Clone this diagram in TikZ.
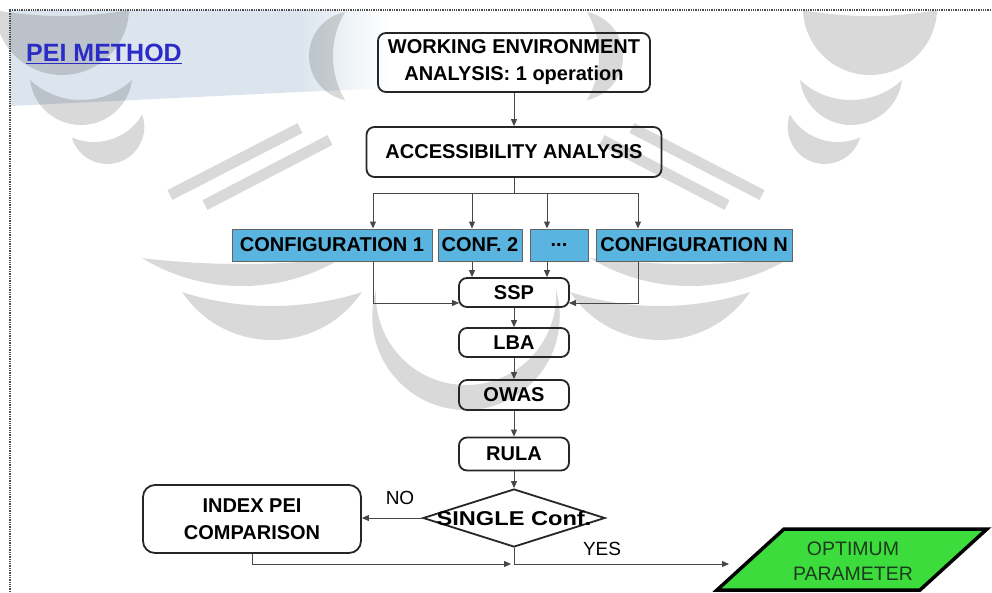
\documentclass[tikz,border=0pt]{standalone}
\usepackage{fontspec}
\setmainfont{Liberation Sans}
\usetikzlibrary{arrows.meta,shapes.geometric,calc}

\definecolor{cfgblue}{HTML}{5AB4E0}
\definecolor{okgreen}{HTML}{3CDC3C}
\definecolor{titleblue}{HTML}{2B2BC8}
\definecolor{bandblue}{HTML}{DCE5EE}
\definecolor{edge}{HTML}{262626}
\definecolor{wire}{HTML}{474747}
\definecolor{optext}{HTML}{1E3A1E}

% crescent of the faint background emblem:
% centre x, tip line y, half width, outer depth, inner depth, rotation
\newcommand\emblemcrescent[6]{%
  \pgfmathsetmacro\cko{(#3*#3-#4*#4)/(2*#4)}%
  \pgfmathsetmacro\cro{#4+\cko}%
  \pgfmathsetmacro\cki{(#3*#3-#5*#5)/(2*#5)}%
  \pgfmathsetmacro\cri{#5+\cki}%
  \begin{scope}[shift={(#1,#2)}, rotate=#6]
    \begin{scope}
      \clip (0,-\cko) circle[radius=\cro];
      \fill[emblem, even odd rule] (-1200,-1200) rectangle (1200,1200)
        (0,-\cki) circle[radius=\cri];
    \end{scope}
  \end{scope}}

\begin{document}
\begin{tikzpicture}[x=1pt,y=-1pt,
  every node/.style={font=\fontsize{20}{27}\selectfont\bfseries, text=black,
    align=center, inner sep=0pt},
  procbox/.style={draw=edge, line width=1.8pt, rounded corners=8pt},
  cfgbox/.style={draw=wire!85, line width=1pt, fill=cfgblue, minimum height=32pt},
  wireline/.style={draw=wire, line width=1pt},
  wirearrow/.style={wireline, -{Triangle[length=7pt,width=6pt]}},
  emblem/.style={fill=black, fill opacity=0.15},
  plainlabel/.style={font=\fontsize{19}{22}\selectfont},
]
\useasboundingbox (0,0) rectangle (992,592);
\fill[white] (0,0) rectangle (992,592);

% light header band behind the title
\fill[bandblue] (10,10) -- (300,10) -- (300,92) -- (10,106) -- cycle;
\shade[left color=bandblue, right color=white] (300,10) -- (390,10) -- (390,88) -- (300,92) -- cycle;

% faint background emblem
\emblemcrescent{870}{10}{67}{65}{6}{0}
\emblemcrescent{62}{10}{67}{65}{6}{0}
\emblemcrescent{851}{80}{51}{45}{20}{0}
\emblemcrescent{81}{80}{51}{45}{20}{0}
\emblemcrescent{825}{126}{37}{38}{14}{-18}
\emblemcrescent{107}{126}{37}{38}{14}{18}
\emblemcrescent{690}{258}{100}{28}{6}{0}
\emblemcrescent{242}{258}{100}{28}{6}{0}
\emblemcrescent{660}{292}{90}{48}{14}{0}
\emblemcrescent{272}{292}{90}{48}{14}{0}
\emblemcrescent{466}{290}{90}{120}{95}{0}
\emblemcrescent{345}{56}{44}{36}{12}{-90}
\emblemcrescent{587}{56}{44}{36}{12}{90}
\begin{scope}[draw=black, draw opacity=0.15, line width=11pt]
  \draw (170,195) -- (300,128);
  \draw (205,205) -- (330,140);
  \draw (762,195) -- (632,128);
  \draw (727,205) -- (602,140);
\end{scope}

% page frame
\draw[black!70, line width=1.3pt, densely dotted] (10,592) -- (10,10) -- (992,10);

% title
\node[font=\fontsize{25}{28}\selectfont\bfseries, text=titleblue] (title) at (104,54) {\underline{PEI METHOD}};

% process chain
\node[procbox, minimum width=272pt, minimum height=59pt] (work) at (514,62.5)
  {WORKING ENVIRONMENT\\ANALYSIS: 1 operation};
\node[procbox, minimum width=295pt, minimum height=50pt] (acc) at (514,152)
  {ACCESSIBILITY ANALYSIS};

\node[cfgbox, minimum width=200pt] (cfga) at (332,245) {CONFIGURATION 1};
\node[cfgbox, minimum width=84pt] (cfgb) at (480,245) {CONF. 2};
\node[cfgbox, minimum width=58pt] (cfgc) at (559,245) {...};
\node[cfgbox, minimum width=196pt] (cfgn) at (694,245) {CONFIGURATION N};

\node[procbox, minimum width=110pt, minimum height=29pt] (ssp) at (514,292.5) {SSP};
\node[procbox, minimum width=110pt, minimum height=29pt] (lba) at (514,342.5) {LBA};
\node[procbox, minimum width=110pt, minimum height=30pt] (owas) at (514,395) {OWAS};
\node[procbox, minimum width=110pt, minimum height=33pt] (rula) at (514,454) {RULA};

\node[draw=edge, line width=1.8pt, diamond, minimum width=182pt, minimum height=58pt] (decide) at (514,518) {};
\node[xscale=1.18] (decidetext) at (decide.center) {SINGLE Conf.};

\node[procbox, rounded corners=12pt, minimum width=218pt, minimum height=68pt] (index) at (252,519)
  {INDEX PEI\\COMPARISON};

\draw[line width=3.5pt, fill=okgreen] (717,590) -- (784,529) -- (987,529) -- (920,590) -- cycle;
\node[font=\fontsize{19.5}{25}\selectfont, text=optext] (optimum) at (853,561) {OPTIMUM\\PARAMETER};

\node[plainlabel] (nolabel) at (400,498) {NO};
\node[plainlabel] (yeslabel) at (602,549) {YES};

% connector end points
\coordinate (bus) at (514,193);
\coordinate (busa) at (373,193);
\coordinate (busb) at (472,193);
\coordinate (busc) at (547,193);
\coordinate (busn) at (638,193);
\coordinate (sspinl) at (459,303);
\coordinate (sspinr) at (569,303);
\coordinate (mergein) at (511,564);
\coordinate (optin) at (729,564);

% connectors
\draw[wirearrow] (work) -- (acc);
\draw[wireline] (acc.south) -- (bus);
\draw[wireline] (busa) -- (busn);
\draw[wirearrow] (busa) -- (busa |- cfga.north);
\draw[wirearrow] (busb) -- (busb |- cfgb.north);
\draw[wirearrow] (busc) -- (busc |- cfgc.north);
\draw[wirearrow] (busn) -- (busn |- cfgn.north);
\draw[wirearrow] (busa |- cfga.south) |- (sspinl);
\draw[wirearrow] (busb |- cfgb.south) -- (busb |- ssp.north);
\draw[wirearrow] (busc |- cfgc.south) -- (busc |- ssp.north);
\draw[wirearrow] (busn |- cfgn.south) |- (sspinr);
\draw[wirearrow] (ssp) -- (lba);
\draw[wirearrow] (lba) -- (owas);
\draw[wirearrow] (owas) -- (rula);
\draw[wirearrow] (rula) -- (decide);
\draw[wirearrow] (decide.west) -- (decide.west -| index.east);
\draw[wirearrow] (index.south) |- (mergein);
\draw[wirearrow] (decide.south) |- (optin);
\end{tikzpicture}
\end{document}
